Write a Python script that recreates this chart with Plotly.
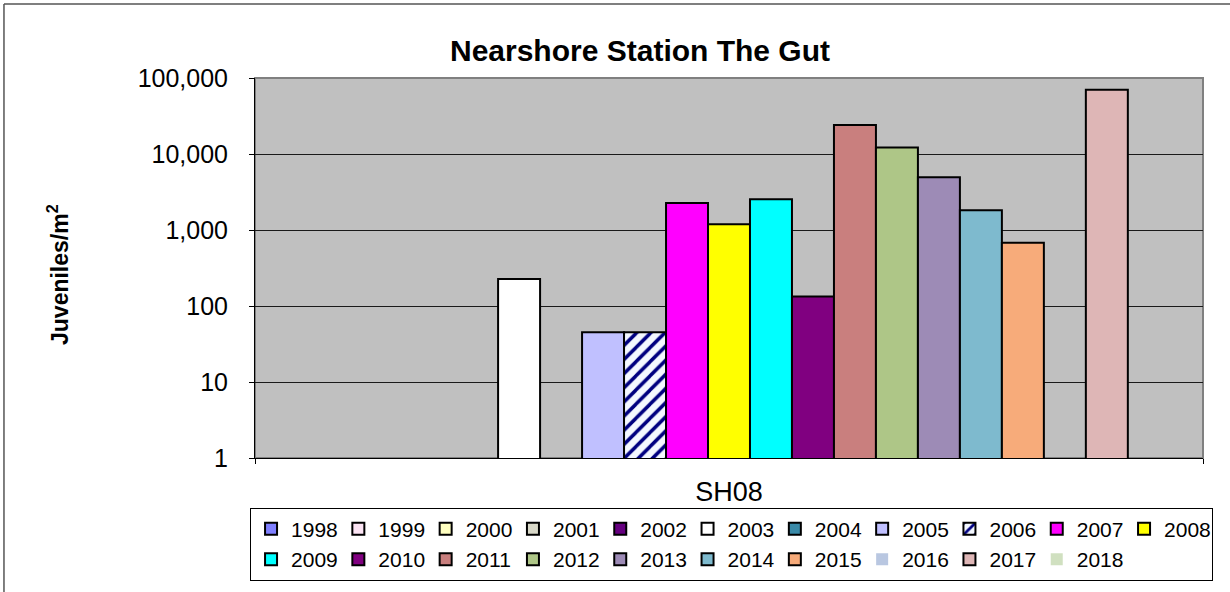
import plotly.graph_objects as go

years = ["1998", "1999", "2000", "2001", "2002", "2003", "2004", "2005", "2006", "2007",
         "2008", "2009", "2010", "2011", "2012", "2013", "2014", "2015", "2016", "2017", "2018"]
values = [None, None, None, None, None, 226, None, 45, 45, 2270,
          1190, 2530, 133, 24000, 12200, 4950, 1820, 680, None, 70000, None]
colors = ["#8080FF", "#FCE4F4", "#FFFFC0", "#D8D8C8", "#660080", "#FFFFFF", "#3A8AA8", "#C0C0FF",
          "#F4F8FF", "#FF00FF", "#FFFF00", "#00FFFF", "#800080", "#C97F7E", "#AEC687",
          "#9D8BB6", "#7EBACE", "#F7AB7A", "#B9C7E1", "#DEB6B6", "#D0E0C0"]
category = ["SH08"]
tick_vals = [1, 10, 100, 1000, 10000, 100000]
tick_text = ["1", "10", "100", "1,000", "10,000", "100,000"]

FONT = "Liberation Sans, Arial, sans-serif"

fig = go.Figure()
for yr, v, c in zip(years, values, colors):
    line_w = 0 if yr in ("2016", "2018") else 2
    marker = dict(color=c, line=dict(color="black", width=line_w))
    if yr == "2006":
        marker["pattern"] = dict(shape="/", fgcolor="#000080", bgcolor="#F4F8FF",
                                 size=10, solidity=0.35, fillmode="replace")
    fig.add_trace(go.Bar(name=yr, x=category, y=[v], marker=marker, showlegend=True))

fig.update_layout(
    width=1230, height=592,
    margin=dict(l=255, r=27, t=78, b=134, autoexpand=False),
    paper_bgcolor="white", plot_bgcolor="#C0C0C0",
    barmode="group", bargap=0.07, bargroupgap=0,
    font=dict(family=FONT, color="black"),
    title=dict(text="<b>Nearshore Station The Gut</b>", x=640 / 1230, xanchor="center",
               y=1 - 50 / 592, yanchor="middle", xref="container", yref="container",
               font=dict(size=30, family=FONT, color="black")),
    legend=dict(orientation="h", x=1.0106, xanchor="right", y=-0.1308, yanchor="top",
                bgcolor="white", bordercolor="black", borderwidth=1,
                font=dict(size=21, family=FONT), entrywidth=42.3, entrywidthmode="pixels",
                itemwidth=30, traceorder="normal"),
    showlegend=True,
)

fig.update_yaxes(type="log", range=[0, 5], tickvals=tick_vals, ticktext=tick_text,
                 showgrid=True, gridcolor="#1a1a1a", gridwidth=1,
                 showline=True, linecolor="black", linewidth=1,
                 ticks="outside", ticklen=5, tickcolor="black",
                 tickfont=dict(size=25, family=FONT), ticklabelstandoff=16,
                 zeroline=False)
fig.update_xaxes(type="category", showline=True, linecolor="black", linewidth=1,
                 ticks="outside", ticklen=5, tickcolor="black", tickson="boundaries",
                 tickfont=dict(size=27, family=FONT), ticklabelstandoff=10,
                 showgrid=False)

# plot-area border (grey) and chart outer border
fig.add_shape(type="rect", xref="paper", yref="paper", x0=0, x1=1, y0=0, y1=1,
              line=dict(color="#808080", width=2), layer="below")
fig.add_shape(type="line", xref="paper", yref="paper", x0=-0.2648, x1=-0.2648,
              y0=-0.36, y1=1.1947, line=dict(color="#555555", width=1.5))
fig.add_shape(type="line", xref="paper", yref="paper", x0=-0.2648, x1=1.03,
              y0=1.1947, y1=1.1947, line=dict(color="#555555", width=1.5))

fig.add_annotation(text="<b>Juveniles/m<sup>2</sup></b>", xref="paper", yref="paper",
                   x=(58 - 255) / 948, y=(458 - 275) / 380, textangle=-90,
                   showarrow=False, xanchor="center", yanchor="middle",
                   font=dict(size=23, family=FONT, color="black"))

fig.write_html("out.html", config={"displayModeBar": False},
               post_script="document.body.style.margin='0';document.body.style.overflow='hidden';")
